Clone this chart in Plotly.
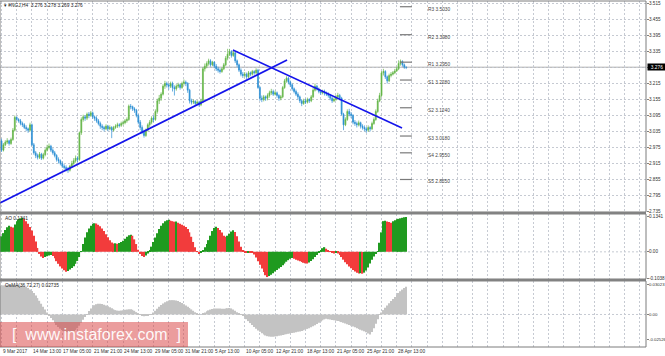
import plotly.graph_objects as go

# ---------------- data ----------------
header_text = "\u25be #NGJ,H4  3.276 3.278 3.269 3.276"
first_open = 3.000
close = [
    2.965, 2.985, 2.995, 3.000, 2.990, 3.005, 3.040, 3.088, 3.080, 3.075,
    3.065, 3.060, 3.050, 3.045, 3.040, 3.060, 2.985, 2.955, 2.945, 2.938,
    2.950, 2.935, 2.948, 2.965, 2.975, 2.980, 2.965, 2.955, 2.945, 2.930,
    2.925, 2.915, 2.905, 2.900, 2.895, 2.890, 2.905, 2.915, 2.925, 2.935,
    2.930, 3.030, 3.080, 3.090, 3.085, 3.100, 3.095, 3.105, 3.090, 3.085,
    3.075, 3.065, 3.055, 3.050, 3.045, 3.055, 3.045, 3.050, 3.040, 3.050,
    3.055, 3.060, 3.058, 3.065, 3.068, 3.075, 3.080, 3.130, 3.128, 3.120,
    3.115, 3.095, 3.070, 3.050, 3.035, 3.020, 3.040, 3.060, 3.070, 3.085,
    3.080, 3.110, 3.150, 3.160, 3.175, 3.205, 3.215, 3.210, 3.205, 3.215,
    3.200, 3.195, 3.205, 3.210, 3.200, 3.215, 3.220, 3.215, 3.190, 3.150,
    3.145, 3.148, 3.140, 3.145, 3.135, 3.150, 3.270, 3.280, 3.290, 3.300,
    3.285, 3.295, 3.280, 3.270, 3.265, 3.260, 3.270, 3.285, 3.310, 3.325,
    3.335, 3.320, 3.330, 3.300, 3.285, 3.265, 3.250, 3.245, 3.250, 3.240,
    3.255, 3.250, 3.260, 3.255, 3.265, 3.200, 3.160, 3.155, 3.165, 3.160,
    3.170, 3.180, 3.185, 3.175, 3.180, 3.170, 3.160, 3.165, 3.200, 3.225,
    3.235, 3.220, 3.210, 3.195, 3.185, 3.175, 3.165, 3.150, 3.140, 3.150,
    3.145, 3.155, 3.150, 3.165, 3.190, 3.205, 3.195, 3.185, 3.180, 3.185,
    3.178, 3.175, 3.170, 3.160, 3.150, 3.155, 3.165, 3.170, 3.160, 3.100,
    3.060, 3.080, 3.110, 3.100, 3.095, 3.070, 3.065, 3.060, 3.068, 3.055,
    3.050, 3.045, 3.040, 3.050, 3.045, 3.065, 3.080, 3.110, 3.150, 3.170,
    3.255, 3.260, 3.240, 3.225, 3.245, 3.250, 3.255, 3.262, 3.270, 3.290,
    3.298, 3.285, 3.276, 3.276]
high = [
    3.008, 2.992, 3.002, 3.010, 3.004, 3.012, 3.048, 3.095, 3.092, 3.085,
    3.082, 3.072, 3.066, 3.058, 3.050, 3.068, 3.065, 2.992, 2.962, 2.952,
    2.958, 2.955, 2.955, 2.972, 2.985, 2.990, 2.985, 2.972, 2.962, 2.950,
    2.938, 2.930, 2.922, 2.912, 2.908, 2.902, 2.910, 2.925, 2.935, 2.945,
    2.942, 3.035, 3.088, 3.098, 3.096, 3.106, 3.108, 3.112, 3.110, 3.095,
    3.092, 3.082, 3.072, 3.062, 3.056, 3.062, 3.060, 3.058, 3.055, 3.056,
    3.062, 3.068, 3.066, 3.072, 3.076, 3.082, 3.088, 3.136, 3.138, 3.132,
    3.126, 3.120, 3.100, 3.078, 3.058, 3.042, 3.046, 3.066, 3.078, 3.092,
    3.095, 3.118, 3.158, 3.172, 3.182, 3.212, 3.225, 3.222, 3.215, 3.222,
    3.222, 3.208, 3.212, 3.218, 3.215, 3.222, 3.230, 3.226, 3.220, 3.195,
    3.158, 3.155, 3.152, 3.152, 3.150, 3.158, 3.276, 3.290, 3.298, 3.308,
    3.306, 3.300, 3.298, 3.288, 3.278, 3.272, 3.276, 3.292, 3.318, 3.345,
    3.345, 3.340, 3.338, 3.335, 3.305, 3.290, 3.272, 3.258, 3.258, 3.256,
    3.262, 3.260, 3.266, 3.265, 3.272, 3.270, 3.205, 3.170, 3.172, 3.170,
    3.178, 3.188, 3.195, 3.192, 3.188, 3.185, 3.175, 3.172, 3.206, 3.232,
    3.242, 3.240, 3.226, 3.215, 3.200, 3.192, 3.182, 3.170, 3.155, 3.158,
    3.158, 3.162, 3.160, 3.172, 3.198, 3.215, 3.210, 3.200, 3.190, 3.192,
    3.192, 3.185, 3.182, 3.176, 3.165, 3.162, 3.172, 3.180, 3.176, 3.165,
    3.105, 3.088, 3.118, 3.120, 3.108, 3.100, 3.078, 3.072, 3.076, 3.072,
    3.062, 3.058, 3.052, 3.058, 3.055, 3.072, 3.088, 3.118, 3.158, 3.180,
    3.262, 3.270, 3.265, 3.245, 3.252, 3.258, 3.262, 3.270, 3.278, 3.302,
    3.305, 3.302, 3.290, 3.278]
low = [
    2.958, 2.960, 2.980, 2.988, 2.982, 2.985, 3.000, 3.035, 3.075, 3.068,
    3.058, 3.052, 3.044, 3.036, 3.030, 3.035, 2.980, 2.948, 2.935, 2.930,
    2.932, 2.928, 2.930, 2.942, 2.960, 2.968, 2.958, 2.948, 2.938, 2.922,
    2.915, 2.908, 2.898, 2.892, 2.885, 2.880, 2.885, 2.900, 2.910, 2.918,
    2.920, 2.925, 3.022, 3.072, 3.075, 3.078, 3.085, 3.090, 3.082, 3.075,
    3.068, 3.058, 3.045, 3.040, 3.035, 3.040, 3.036, 3.040, 3.010, 3.035,
    3.045, 3.048, 3.050, 3.052, 3.058, 3.062, 3.068, 3.075, 3.118, 3.112,
    3.105, 3.088, 3.062, 3.040, 3.025, 3.012, 3.015, 3.035, 3.052, 3.062,
    3.070, 3.075, 3.102, 3.138, 3.150, 3.170, 3.195, 3.200, 3.192, 3.198,
    3.185, 3.170, 3.188, 3.198, 3.192, 3.195, 3.208, 3.205, 3.180, 3.140,
    3.136, 3.138, 3.132, 3.134, 3.128, 3.130, 3.142, 3.260, 3.272, 3.282,
    3.278, 3.280, 3.272, 3.262, 3.256, 3.252, 3.255, 3.265, 3.280, 3.302,
    3.318, 3.312, 3.315, 3.292, 3.275, 3.258, 3.242, 3.236, 3.238, 3.232,
    3.235, 3.242, 3.245, 3.248, 3.250, 3.195, 3.150, 3.145, 3.148, 3.150,
    3.152, 3.162, 3.172, 3.168, 3.170, 3.162, 3.150, 3.152, 3.160, 3.195,
    3.218, 3.212, 3.202, 3.188, 3.178, 3.168, 3.155, 3.142, 3.130, 3.135,
    3.138, 3.140, 3.142, 3.145, 3.160, 3.185, 3.188, 3.178, 3.172, 3.174,
    3.170, 3.168, 3.162, 3.152, 3.142, 3.145, 3.150, 3.160, 3.152, 3.095,
    3.040, 3.055, 3.075, 3.092, 3.085, 3.062, 3.056, 3.050, 3.054, 3.046,
    3.042, 3.036, 3.030, 3.034, 3.035, 3.040, 3.060, 3.075, 3.105, 3.145,
    3.165, 3.245, 3.232, 3.215, 3.220, 3.238, 3.245, 3.250, 3.258, 3.265,
    3.282, 3.278, 3.270, 3.269]
ao = [
    0.060, 0.072, 0.084, 0.095, 0.100, 0.097, 0.094, 0.105, 0.118, 0.125,
    0.129, 0.131, 0.126, 0.118, 0.108, 0.096, 0.082, 0.062, 0.040, 0.015,
    -0.008, -0.018, -0.024, -0.020, -0.017, -0.014, -0.012, -0.016, -0.025, -0.036,
    -0.046, -0.056, -0.064, -0.071, -0.077, -0.074, -0.068, -0.062, -0.055, -0.046,
    -0.035, -0.020, 0.002, 0.030, 0.055, 0.075, 0.090, 0.100, 0.107, 0.110,
    0.109, 0.104, 0.098, 0.090, 0.080, 0.068, 0.056, 0.045, 0.036, 0.032,
    0.033, 0.031, 0.034, 0.038, 0.043, 0.050, 0.058, 0.064, 0.066, 0.062,
    0.048, 0.030, 0.008, -0.008, -0.016, -0.020, -0.014, -0.006, 0.005, 0.020,
    0.038, 0.055, 0.072, 0.088, 0.100, 0.110, 0.118, 0.122, 0.123, 0.120,
    0.118, 0.116, 0.117, 0.112, 0.108, 0.104, 0.100, 0.096, 0.088, 0.075,
    0.058, 0.038, 0.018, 0.002, -0.008, -0.004, 0.006, 0.018, 0.030, 0.045,
    0.062, 0.080, 0.092, 0.097, 0.092, 0.084, 0.074, 0.062, 0.058, 0.062,
    0.070, 0.078, 0.083, 0.076, 0.060, 0.040, 0.020, 0.004, -0.002, -0.003,
    -0.002, -0.003, -0.004, -0.010, -0.022, -0.036, -0.050, -0.064, -0.078, -0.090,
    -0.097, -0.093, -0.088, -0.082, -0.076, -0.070, -0.064, -0.058, -0.052, -0.045,
    -0.038, -0.032, -0.027, -0.024, -0.027, -0.030, -0.033, -0.036, -0.039, -0.042,
    -0.044, -0.045, -0.041, -0.035, -0.028, -0.020, -0.012, -0.004, 0.006, 0.014,
    0.018, 0.012, 0.006, 0.002, -0.004, -0.006, -0.004, -0.006, -0.012, -0.020,
    -0.030, -0.040, -0.048, -0.056, -0.063, -0.070, -0.076, -0.080, -0.083, -0.082,
    -0.084, -0.080, -0.072, -0.060, -0.045, -0.030, -0.018, -0.008, 0.002, 0.035,
    0.075, 0.118, 0.120, 0.117, 0.115, 0.112, 0.118, 0.122, 0.125, 0.127,
    0.129, 0.131, 0.133, 0.1341]
osma = [
    0.0295, 0.0298, 0.0300, 0.0302, 0.0302, 0.0301, 0.0300, 0.0300, 0.0299, 0.0297,
    0.0295, 0.0292, 0.0287, 0.0280, 0.0270, 0.0257, 0.0240, 0.0220,
    0.0195, 0.0168, 0.0140, 0.0110, 0.0080, 0.0050, 0.0020,
    -0.0010, -0.0035, -0.0060, -0.0085, -0.0108, -0.0128, -0.0145, -0.0160, -0.0172, -0.0180,
    -0.0183, -0.0182, -0.0178, -0.0170, -0.0158,
    -0.0140, -0.0115, -0.0085, -0.0055, -0.0025,
    0.0005, 0.0035, 0.0060, 0.0080, 0.0095, 0.0105, 0.0110,
    0.0110, 0.0106, 0.0100, 0.0092, 0.0083, 0.0073, 0.0063, 0.0053, 0.0045, 0.0040, 0.0038,
    0.0040, 0.0044, 0.0048, 0.0052, 0.0054, 0.0053, 0.0048,
    0.0038, 0.0024, 0.0010, -0.0005, -0.0015,
    -0.0018, -0.0016, -0.0012, -0.0005, 0.0005, 0.0020, 0.0038,
    0.0058, 0.0078, 0.0096, 0.0112, 0.0125, 0.0135, 0.0142, 0.0146, 0.0147, 0.0146, 0.0143,
    0.0137, 0.0128, 0.0117, 0.0105, 0.0093, 0.0080, 0.0066, 0.0052, 0.0038, 0.0024, 0.0012, 0.0002,
    0.0000, 0.0008, 0.0020, 0.0032, 0.0042, 0.0050, 0.0056,
    0.0060, 0.0062, 0.0062, 0.0060, 0.0058, 0.0058, 0.0060, 0.0064, 0.0066, 0.0062,
    0.0052, 0.0038, 0.0022, 0.0008, -0.0004, -0.0016, -0.0030,
    -0.0048, -0.0068, -0.0088, -0.0108, -0.0128, -0.0146, -0.0163, -0.0178, -0.0192, -0.0205,
    -0.0215, -0.0222, -0.0226,
    -0.0228, -0.0228, -0.0226, -0.0222, -0.0218,
    -0.0214, -0.0210, -0.0206, -0.0202, -0.0198, -0.0194, -0.0190, -0.0186, -0.0182, -0.0178, -0.0174,
    -0.0168, -0.0162, -0.0155, -0.0148, -0.0140, -0.0131, -0.0121,
    -0.0110, -0.0098, -0.0085, -0.0072, -0.0060, -0.0050, -0.0044, -0.0048,
    -0.0052, -0.0056, -0.0060, -0.0064, -0.0068, -0.0072,
    -0.0078, -0.0085, -0.0092, -0.0100, -0.0108, -0.0116, -0.0124, -0.0132, -0.0140, -0.0148,
    -0.0156, -0.0164, -0.0172, -0.0182, -0.0195,
    -0.0205, -0.0180, -0.0140, -0.0095, -0.0050, -0.0005,
    0.0020, 0.0045, 0.0068, 0.0092, 0.0115, 0.0137, 0.0158, 0.0180, 0.0200, 0.0220,
    0.0238, 0.0255, 0.0270, 0.0285]

time_labels = ["9 Mar 2017", "14 Mar 13:00", "17 Mar 05:00", "21 Mar 21:00",
               "24 Mar 13:00", "29 Mar 05:00", "31 Mar 21:00", "5 Apr 13:00",
               "10 Apr 05:00", "12 Apr 21:00", "18 Apr 13:00", "21 Apr 05:00",
               "25 Apr 21:00", "28 Apr 13:00"]
bars_per_label = 16
bars_per_grid = 8
price_ticks = [3.515, 3.455, 3.395, 3.335, 3.275, 3.215, 3.155, 3.095,
               3.035, 2.975, 2.915, 2.855, 2.795, 2.735]
hidden_price_label = 3.275   # covered by the current-price box in the reference
pivot_names = ["R3", "R2", "R1", "S1", "S2", "S3", "S4", "S5"]
pivot_levels = [3.5030, 3.3980, 3.2950, 3.2280, 3.1240, 3.0180, 2.9550, 2.8550]
last_price = 3.276
trend_up_x = [-0.8, 150.3]
trend_up_y = [2.767, 3.303]
trend_dn_x = [121.8, 210.8]
trend_dn_y = [3.341, 3.048]
ao_ticks = [0.1341, 0.0, -0.1038]
ao_ticktext = ["0.1341", "0.00", "-0.1038"]
osma_ticks = [0.03023, 0.0, -0.02526]
osma_ticktext = ["0.03023", "0.00", "-0.02526"]
ao_label = "AO 0.1341"
osma_label = "OsMA(36,72,27) 0.02735"
watermark = "[  www.instaforex.com  ]"

n = len(close)
assert len(high) == n and len(low) == n and len(ao) == n and len(osma) == n

# ---------------- build ----------------
idx = list(range(n))
opens = [first_open] + close[:-1]
ao_colors = ['#1f9a1f' if (i == 0 or ao[i] > ao[i - 1]) else '#f23c3c' for i in range(n)]

FONT = "Liberation Sans, Arial, sans-serif"
GRID = '#c6cad2'
XR = [-0.79, 339.2]
grid_vals = list(range(0, 340, bars_per_grid))

D_MAIN = [0.3902, 1.0]
D_AO = [0.1965, 0.3844]
D_OS = [0.0, 0.1908]

fig = go.Figure()
fig.add_trace(go.Candlestick(
    x=idx, open=opens, high=high, low=low, close=close,
    increasing=dict(line=dict(color='#62b545', width=0.7), fillcolor='#62b545'),
    decreasing=dict(line=dict(color='#2a8ed4', width=0.7), fillcolor='#2a8ed4'),
    whiskerwidth=0, xaxis='x', yaxis='y', hoverinfo='skip'))
fig.add_trace(go.Scatter(x=trend_up_x, y=trend_up_y, mode='lines',
                         line=dict(color='rgb(20,20,235)', width=1.6), xaxis='x', yaxis='y'))
fig.add_trace(go.Scatter(x=trend_dn_x, y=trend_dn_y, mode='lines',
                         line=dict(color='rgb(20,20,235)', width=1.6), xaxis='x', yaxis='y'))
fig.add_trace(go.Bar(x=idx, y=ao, marker=dict(color=ao_colors, line=dict(width=0)),
                     xaxis='x2', yaxis='y2'))
fig.add_trace(go.Bar(x=idx, y=osma, marker=dict(color='#c3c3c3', line=dict(width=0)),
                     xaxis='x3', yaxis='y3'))

xcommon = dict(range=XR, tickvals=grid_vals, showticklabels=False, showgrid=True,
               gridcolor=GRID, griddash='2px,2px', gridwidth=1, zeroline=False,
               showline=False, ticks='', automargin=False, domain=[0, 1])
ycommon = dict(side='right', ticks='outside', ticklen=2, tickcolor='#808080',
               showticklabels=False, zeroline=False, showline=False, automargin=False)

shapes = []
for (a, b) in [(D_AO[1], D_MAIN[0]), (D_OS[1], D_AO[0])]:
    shapes.append(dict(type='rect', xref='paper', yref='paper', x0=0, x1=1, y0=a, y1=b,
                       fillcolor='#8a8a8a', line=dict(width=0), layer='above'))
for d in (D_MAIN, D_AO, D_OS):
    shapes.append(dict(type='rect', xref='paper', yref='paper', x0=0, x1=1, y0=d[0], y1=d[1],
                       line=dict(color='#7c7c7c', width=1), fillcolor='rgba(0,0,0,0)', layer='above'))
for yr in ('y2', 'y3'):
    shapes.append(dict(type='line', xref='paper', yref=yr, x0=0, x1=1, y0=0, y1=0,
                       line=dict(color=GRID, width=1, dash='2px,2px'), layer='below'))
shapes.append(dict(type='line', xref='paper', yref='y', x0=0, x1=1, y0=last_price, y1=last_price,
                   line=dict(color='#a6a6a6', width=1), layer='below'))
for lvl in pivot_levels:
    shapes.append(dict(type='line', xref='x', yref='y', x0=209.7, x1=216.0, y0=lvl, y1=lvl,
                       line=dict(color='#7a7a7a', width=1.2)))
shapes.append(dict(type='rect', xref='paper', yref='paper', x0=0, x1=0.291, y0=0, y1=0.0723,
                   fillcolor='rgba(215,60,60,0.5)', line=dict(width=0), layer='above'))

ann = []
small = dict(size=4.8, color='#202020', family=FONT)
ann.append(dict(text=header_text, xref='paper', yref='paper', x=0.003, y=1, xanchor='left',
                yanchor='top', showarrow=False, font=small))
ann.append(dict(text=ao_label, xref='paper', yref='paper', x=0.004, y=D_AO[1], xanchor='left',
                yanchor='top', showarrow=False, font=small))
ann.append(dict(text=osma_label, xref='paper', yref='paper', x=0.004, y=D_OS[1], xanchor='left',
                yanchor='top', showarrow=False, font=small))
for name, lvl in zip(pivot_names, pivot_levels):
    ann.append(dict(text=f"{name} {lvl:.4f}", xref='x', yref='y', x=223.5, y=lvl, xanchor='left',
                    yanchor='middle', yshift=-2.5, showarrow=False,
                    font=dict(size=4.8, color='#454545', family=FONT)))
for k, lbl in enumerate(time_labels):
    ann.append(dict(text=lbl, xref='x3', yref='paper', x=k * bars_per_label, y=0, xanchor='left',
                    yanchor='top', showarrow=False, borderpad=0, yshift=-1,
                    font=dict(size=4.8, color='#303030', family=FONT)))

# right-axis value labels
axis_font = dict(size=4.6, color='#303030', family=FONT)
for v in price_ticks:
    if abs(v - hidden_price_label) < 1e-9:
        continue
    ann.append(dict(text=f"{v:.3f}", xref='paper', yref='y', x=1, y=v, xanchor='left',
                    yanchor='middle', xshift=1.5, borderpad=0, showarrow=False, font=axis_font))
for v, t in zip(ao_ticks, ao_ticktext):
    ann.append(dict(text=t, xref='paper', yref='y2', x=1, y=v, xanchor='left',
                    yanchor='middle', xshift=1.5, borderpad=0, showarrow=False, font=axis_font))
for v, t in zip(osma_ticks, osma_ticktext):
    ann.append(dict(text=t, xref='paper', yref='y3', x=1, y=v, xanchor='left',
                    yanchor='middle', xshift=1.5, borderpad=0, showarrow=False,
                    font=dict(size=4.3, color='#303030', family=FONT)))
ann.append(dict(text=f"{last_price:.3f}", xref='paper', yref='y', x=1, y=last_price,
                xanchor='left', yanchor='middle', xshift=1, showarrow=False, bgcolor='black',
                borderpad=0.5, width=17, font=dict(size=4.8, color='white', family=FONT)))
ann.append(dict(text=watermark, xref='paper', yref='paper', x=0.0155, y=0.036, xanchor='left',
                yanchor='middle', showarrow=False,
                font=dict(size=16, color='rgba(255,255,255,0.95)', family=FONT)))

fig.update_layout(
    template='none', width=665, height=356,
    margin=dict(l=0, r=19, t=1, b=9, autoexpand=False),
    paper_bgcolor='white', plot_bgcolor='white', showlegend=False, bargap=0.3,
    font=dict(family=FONT, size=5, color='#303030'),
    xaxis=dict(anchor='y', rangeslider=dict(visible=False), **xcommon),
    xaxis2=dict(anchor='y2', matches='x', **xcommon),
    xaxis3=dict(anchor='y3', matches='x', **xcommon),
    yaxis=dict(domain=D_MAIN, anchor='x', range=[2.7331, 3.5244], tickvals=price_ticks,
               showgrid=True, gridcolor=GRID, griddash='2px,2px', gridwidth=1, **ycommon),
    yaxis2=dict(domain=D_AO, anchor='x2', range=[-0.1045, 0.1456], tickvals=ao_ticks,
                showgrid=False, **ycommon),
    yaxis3=dict(domain=D_OS, anchor='x3', range=[-0.0333, 0.0343], tickvals=osma_ticks,
                showgrid=False, **ycommon),
    shapes=shapes, annotations=ann,
)

fig.write_html("out.html", config={'displayModeBar': False},
               post_script="document.body.style.margin='0';document.body.style.padding='0';")
